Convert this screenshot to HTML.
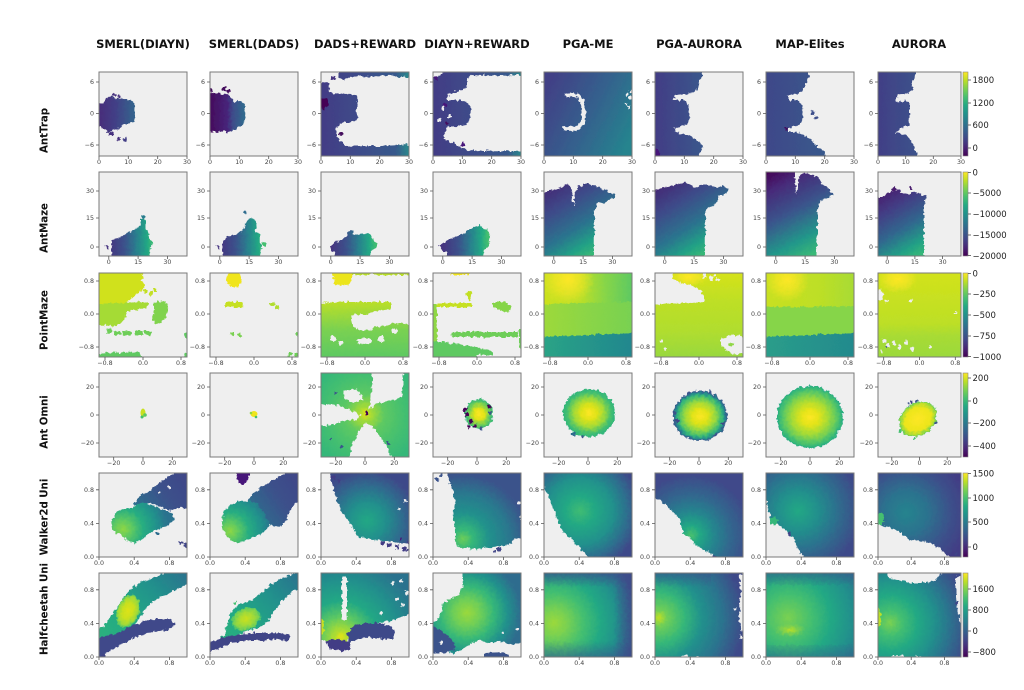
<!DOCTYPE html>
<html><head><meta charset="utf-8"><style>
html,body{margin:0;padding:0;background:#fff}
svg{display:block}
.bg{fill:#efefef}
.h{fill:#efefef}
.fr{fill:none;stroke:#7a7a7a;stroke-width:1}
.tk path{stroke:#555;stroke-width:.8;fill:none}
.tk text{font-family:"DejaVu Sans","Liberation Sans",sans-serif;font-size:6.3px;fill:#444;text-anchor:middle}
.tk text.y{text-anchor:end}
.ti{font-family:"DejaVu Sans","Liberation Sans",sans-serif;font-weight:bold;font-size:11.5px;fill:#111;text-anchor:middle}
.rl{font-family:"DejaVu Sans","Liberation Sans",sans-serif;font-weight:bold;font-size:10.2px;fill:#111;text-anchor:middle}
.cb text{font-family:"DejaVu Sans","Liberation Sans",sans-serif;font-size:8.5px;fill:#222}
.cb path{stroke:#444;stroke-width:.8;fill:none}
.cb rect{stroke:#888;stroke-width:.6}
</style></head><body>
<svg width="1024" height="690" viewBox="0 0 1024 690" xmlns="http://www.w3.org/2000/svg">
<defs>
<clipPath id="cA"><rect width="88" height="84"/></clipPath>
<clipPath id="cB"><rect width="83" height="84"/></clipPath>
<filter id="r" filterUnits="userSpaceOnUse" x="-10" y="-10" width="110" height="105">
<feTurbulence type="fractalNoise" baseFrequency="0.3" numOctaves="2" seed="4"/>
<feDisplacementMap in="SourceGraphic" scale="5" xChannelSelector="R" yChannelSelector="G"/>
</filter>
<linearGradient id="cbg" x1="0" y1="0" x2="0" y2="1"><stop offset="0" stop-color="#fde725"/><stop offset=".1" stop-color="#bddf26"/><stop offset=".2" stop-color="#7ad151"/><stop offset=".3" stop-color="#44bf70"/><stop offset=".4" stop-color="#22a884"/><stop offset=".5" stop-color="#21918c"/><stop offset=".6" stop-color="#2a788e"/><stop offset=".7" stop-color="#355f8d"/><stop offset=".8" stop-color="#414487"/><stop offset=".9" stop-color="#482475"/><stop offset="1" stop-color="#440154"/></linearGradient>
<linearGradient id="g11" gradientUnits="userSpaceOnUse" x1="0" y1="0" x2="36" y2="0"><stop offset="0" stop-color="#472c7a"/><stop offset=".45" stop-color="#423f86"/><stop offset="1" stop-color="#33658d"/></linearGradient>
<linearGradient id="g12" gradientUnits="userSpaceOnUse" x1="0" y1="0" x2="35" y2="0"><stop offset="0" stop-color="#450b5d"/><stop offset=".5" stop-color="#46257a"/><stop offset=".65" stop-color="#3e4c8a"/><stop offset="1" stop-color="#2f6c8e"/></linearGradient>
<linearGradient id="g13" gradientUnits="userSpaceOnUse" x1="0" y1="0" x2="88" y2="0"><stop offset="0" stop-color="#433c85"/><stop offset=".5" stop-color="#3d4e8a"/><stop offset=".85" stop-color="#37598c"/><stop offset="1" stop-color="#2a8a8c"/></linearGradient>
<linearGradient id="g15" gradientUnits="userSpaceOnUse" x1="0" y1="20" x2="88" y2="64"><stop offset="0" stop-color="#424086"/><stop offset=".5" stop-color="#355f8d"/><stop offset="1" stop-color="#25848e"/></linearGradient>
<linearGradient id="g16" gradientUnits="userSpaceOnUse" x1="0" y1="0" x2="48" y2="0"><stop offset="0" stop-color="#433d85"/><stop offset="1" stop-color="#39578c"/></linearGradient>
<linearGradient id="g17" gradientUnits="userSpaceOnUse" x1="0" y1="0" x2="60" y2="0"><stop offset="0" stop-color="#3f4889"/><stop offset="1" stop-color="#38598c"/></linearGradient>
<linearGradient id="g18" gradientUnits="userSpaceOnUse" x1="0" y1="0" x2="40" y2="0"><stop offset="0" stop-color="#423f86"/><stop offset="1" stop-color="#3b538b"/></linearGradient>
<linearGradient id="g2s" gradientUnits="userSpaceOnUse" x1="10" y1="0" x2="55" y2="0"><stop offset="0" stop-color="#463480"/><stop offset=".35" stop-color="#3b528b"/><stop offset=".6" stop-color="#2a7d8e"/><stop offset=".85" stop-color="#22a884"/><stop offset="1" stop-color="#44bf70"/></linearGradient>
<linearGradient id="g2b" gradientUnits="userSpaceOnUse" x1="0" y1="8" x2="48" y2="84"><stop offset="0" stop-color="#471e6f"/><stop offset=".35" stop-color="#3e4a89"/><stop offset=".65" stop-color="#2b738e"/><stop offset=".85" stop-color="#22a086"/><stop offset="1" stop-color="#3bbb75"/></linearGradient>
<linearGradient id="g2c" gradientUnits="userSpaceOnUse" x1="0" y1="0" x2="45" y2="84"><stop offset="0" stop-color="#440154"/><stop offset=".2" stop-color="#472a79"/><stop offset=".5" stop-color="#3a558c"/><stop offset=".8" stop-color="#22978a"/><stop offset="1" stop-color="#3aba76"/></linearGradient>
<linearGradient id="g2d" gradientUnits="userSpaceOnUse" x1="0" y1="18" x2="40" y2="84"><stop offset="0" stop-color="#48186a"/><stop offset=".3" stop-color="#433e85"/><stop offset=".6" stop-color="#30688e"/><stop offset=".85" stop-color="#22a086"/><stop offset="1" stop-color="#35b779"/></linearGradient>
<linearGradient id="g33" gradientUnits="userSpaceOnUse" x1="0" y1="30" x2="0" y2="84"><stop offset="0" stop-color="#b8de29"/><stop offset=".5" stop-color="#7ad151"/><stop offset="1" stop-color="#5ec962"/></linearGradient>
<linearGradient id="g35t" gradientUnits="userSpaceOnUse" x1="0" y1="0" x2="88" y2="0"><stop offset="0" stop-color="#cce11e"/><stop offset=".45" stop-color="#b5de2b"/><stop offset=".7" stop-color="#86d549"/><stop offset="1" stop-color="#5ec962"/></linearGradient>
<linearGradient id="g35m" gradientUnits="userSpaceOnUse" x1="0" y1="0" x2="88" y2="0"><stop offset="0" stop-color="#9dd93b"/><stop offset="1" stop-color="#78d152"/></linearGradient>
<linearGradient id="g35b" gradientUnits="userSpaceOnUse" x1="0" y1="0" x2="88" y2="0"><stop offset="0" stop-color="#2aa386"/><stop offset="1" stop-color="#21878e"/></linearGradient>
<linearGradient id="g36" gradientUnits="userSpaceOnUse" x1="0" y1="0" x2="0" y2="84"><stop offset="0" stop-color="#d5e21a"/><stop offset=".35" stop-color="#bddf26"/><stop offset=".7" stop-color="#b0dd2f"/><stop offset="1" stop-color="#98d83e"/></linearGradient>
<linearGradient id="g37t" gradientUnits="userSpaceOnUse" x1="0" y1="0" x2="88" y2="0"><stop offset="0" stop-color="#c8e020"/><stop offset=".6" stop-color="#bddf26"/><stop offset="1" stop-color="#a8db34"/></linearGradient>
<linearGradient id="g37b" gradientUnits="userSpaceOnUse" x1="0" y1="0" x2="88" y2="0"><stop offset="0" stop-color="#2a9d8a"/><stop offset="1" stop-color="#238a8d"/></linearGradient>
<linearGradient id="g38" gradientUnits="userSpaceOnUse" x1="0" y1="0" x2="0" y2="84"><stop offset="0" stop-color="#d2e21b"/><stop offset=".6" stop-color="#bddf26"/><stop offset=".75" stop-color="#a8db34"/><stop offset="1" stop-color="#9bd93c"/></linearGradient>
<linearGradient id="g51b" gradientUnits="userSpaceOnUse" x1="35" y1="35" x2="88" y2="0"><stop offset="0" stop-color="#2c728e"/><stop offset=".5" stop-color="#3b528b"/><stop offset="1" stop-color="#404688"/></linearGradient>
<linearGradient id="g61" gradientUnits="userSpaceOnUse" x1="0" y1="80" x2="88" y2="0"><stop offset="0" stop-color="#2fb47c"/><stop offset=".4" stop-color="#22a884"/><stop offset=".7" stop-color="#21918c"/><stop offset="1" stop-color="#2c728e"/></linearGradient>
<linearGradient id="gT" gradientUnits="userSpaceOnUse" x1="0" y1="-4" x2="0" y2="14"><stop offset="0" stop-color="#3b528b" stop-opacity=".95"/><stop offset="1" stop-color="#3b528b" stop-opacity="0"/></linearGradient>
<linearGradient id="gB" gradientUnits="userSpaceOnUse" x1="0" y1="88" x2="0" y2="68"><stop offset="0" stop-color="#3b528b" stop-opacity=".95"/><stop offset="1" stop-color="#3b528b" stop-opacity="0"/></linearGradient>
<linearGradient id="gR" gradientUnits="userSpaceOnUse" x1="92" y1="0" x2="70" y2="0"><stop offset="0" stop-color="#3e4a89" stop-opacity=".95"/><stop offset="1" stop-color="#3e4a89" stop-opacity="0"/></linearGradient>
<radialGradient id="rY"><stop offset="0" stop-color="#fde725"/><stop offset=".5" stop-color="#fde725" stop-opacity=".6"/><stop offset="1" stop-color="#fde725" stop-opacity="0"/></radialGradient>
<radialGradient id="r43" gradientUnits="userSpaceOnUse" cx="44" cy="41" r="55"><stop offset="0" stop-color="#dfe318"/><stop offset=".12" stop-color="#a5db36"/><stop offset=".35" stop-color="#5ec962"/><stop offset=".7" stop-color="#44bf70"/><stop offset="1" stop-color="#35b779"/></radialGradient>
<radialGradient id="rd1"><stop offset="0" stop-color="#fde725"/><stop offset=".4" stop-color="#dfe318"/><stop offset=".7" stop-color="#7ad151"/><stop offset="1" stop-color="#35b779"/></radialGradient>
<radialGradient id="rd2"><stop offset="0" stop-color="#fde725"/><stop offset=".3" stop-color="#dfe318"/><stop offset=".6" stop-color="#9bd93c"/><stop offset=".85" stop-color="#44bf70"/><stop offset="1" stop-color="#2fb47c"/></radialGradient>
<radialGradient id="rd3"><stop offset="0" stop-color="#fde725"/><stop offset=".3" stop-color="#dfe318"/><stop offset=".6" stop-color="#8fd744"/><stop offset=".82" stop-color="#35b779"/><stop offset=".93" stop-color="#25848e"/><stop offset="1" stop-color="#3b528b"/></radialGradient>
<radialGradient id="rd4"><stop offset="0" stop-color="#fde725"/><stop offset=".25" stop-color="#e5e419"/><stop offset=".55" stop-color="#a5db36"/><stop offset=".8" stop-color="#5ec962"/><stop offset=".95" stop-color="#35b779"/><stop offset="1" stop-color="#22a884"/></radialGradient>
<radialGradient id="rd5"><stop offset="0" stop-color="#fde725"/><stop offset=".7" stop-color="#ece51b"/><stop offset=".9" stop-color="#a5db36"/><stop offset="1" stop-color="#5ec962"/></radialGradient>
<radialGradient id="r51" gradientUnits="userSpaceOnUse" cx="24" cy="56" r="45"><stop offset="0" stop-color="#8fd744"/><stop offset=".2" stop-color="#5ec962"/><stop offset=".45" stop-color="#27ad81"/><stop offset=".75" stop-color="#21918c"/><stop offset="1" stop-color="#2c728e"/></radialGradient>
<radialGradient id="r52" gradientUnits="userSpaceOnUse" cx="20" cy="58" r="42"><stop offset="0" stop-color="#8fd744"/><stop offset=".2" stop-color="#5ec962"/><stop offset=".45" stop-color="#27ad81"/><stop offset=".75" stop-color="#21918c"/><stop offset="1" stop-color="#2c728e"/></radialGradient>
<radialGradient id="r53" gradientUnits="userSpaceOnUse" cx="46" cy="48" r="50"><stop offset="0" stop-color="#22a884"/><stop offset=".35" stop-color="#21918c"/><stop offset=".7" stop-color="#2f6c8e"/><stop offset="1" stop-color="#3e4a89"/></radialGradient>
<radialGradient id="r54" gradientUnits="userSpaceOnUse" cx="30" cy="66" r="65"><stop offset="0" stop-color="#6ece58"/><stop offset=".15" stop-color="#35b779"/><stop offset=".4" stop-color="#21918c"/><stop offset=".7" stop-color="#2a788e"/><stop offset="1" stop-color="#3b528b"/></radialGradient>
<radialGradient id="r55" gradientUnits="userSpaceOnUse" cx="36" cy="38" r="60"><stop offset="0" stop-color="#3fbc73"/><stop offset=".25" stop-color="#22a884"/><stop offset=".55" stop-color="#21918c"/><stop offset=".8" stop-color="#2f6c8e"/><stop offset="1" stop-color="#3e4a89"/></radialGradient>
<radialGradient id="r56" gradientUnits="userSpaceOnUse" cx="36" cy="62" r="60"><stop offset="0" stop-color="#4ac16d"/><stop offset=".15" stop-color="#22a884"/><stop offset=".4" stop-color="#25848e"/><stop offset=".65" stop-color="#31688e"/><stop offset="1" stop-color="#3f4a8a"/></radialGradient>
<radialGradient id="r57" gradientUnits="userSpaceOnUse" cx="32" cy="38" r="62"><stop offset="0" stop-color="#22a884"/><stop offset=".3" stop-color="#21918c"/><stop offset=".6" stop-color="#2c728e"/><stop offset="1" stop-color="#3e4a89"/></radialGradient>
<radialGradient id="r58" gradientUnits="userSpaceOnUse" cx="28" cy="40" r="62"><stop offset="0" stop-color="#25848e"/><stop offset=".35" stop-color="#2c728e"/><stop offset=".7" stop-color="#3b528b"/><stop offset="1" stop-color="#433e85"/></radialGradient>
<radialGradient id="r61"><stop offset="0" stop-color="#dfe318"/><stop offset=".5" stop-color="#c8e020"/><stop offset=".85" stop-color="#9bd93c"/><stop offset="1" stop-color="#5ec962"/></radialGradient>
<radialGradient id="r62"><stop offset="0" stop-color="#c8e020"/><stop offset=".5" stop-color="#a5db36"/><stop offset=".85" stop-color="#7ad151"/><stop offset="1" stop-color="#44bf70"/></radialGradient>
<radialGradient id="r63" gradientUnits="userSpaceOnUse" cx="20" cy="64" r="80"><stop offset="0" stop-color="#dfe318"/><stop offset=".1" stop-color="#a5db36"/><stop offset=".25" stop-color="#5ec962"/><stop offset=".45" stop-color="#22a884"/><stop offset=".7" stop-color="#21918c"/><stop offset="1" stop-color="#2c728e"/></radialGradient>
<radialGradient id="r64" gradientUnits="userSpaceOnUse" cx="34" cy="40" r="54"><stop offset="0" stop-color="#9bd93c"/><stop offset=".25" stop-color="#6ece58"/><stop offset=".5" stop-color="#35b779"/><stop offset=".75" stop-color="#21918c"/><stop offset="1" stop-color="#2f6c8e"/></radialGradient>
<radialGradient id="r65" gradientUnits="userSpaceOnUse" cx="10" cy="50" r="85"><stop offset="0" stop-color="#9bd93c"/><stop offset=".15" stop-color="#7ad151"/><stop offset=".35" stop-color="#44bf70"/><stop offset=".55" stop-color="#22a884"/><stop offset=".75" stop-color="#21918c"/><stop offset=".9" stop-color="#2c728e"/><stop offset="1" stop-color="#3b528b"/></radialGradient>
<radialGradient id="r66" gradientUnits="userSpaceOnUse" cx="4" cy="45" r="85"><stop offset="0" stop-color="#bddf26"/><stop offset=".1" stop-color="#6ece58"/><stop offset=".3" stop-color="#35b779"/><stop offset=".5" stop-color="#21918c"/><stop offset=".75" stop-color="#2c728e"/><stop offset="1" stop-color="#3e4a89"/></radialGradient>
<radialGradient id="r67" gradientUnits="userSpaceOnUse" cx="22" cy="45" r="78"><stop offset="0" stop-color="#7ad151"/><stop offset=".3" stop-color="#44bf70"/><stop offset=".55" stop-color="#22a884"/><stop offset=".8" stop-color="#21918c"/><stop offset="1" stop-color="#2a788e"/></radialGradient>
<radialGradient id="r67s"><stop offset="0" stop-color="#bddf26"/><stop offset="1" stop-color="#7ad151" stop-opacity="0"/></radialGradient>
<radialGradient id="r68" gradientUnits="userSpaceOnUse" cx="12" cy="50" r="80"><stop offset="0" stop-color="#7ad151"/><stop offset=".15" stop-color="#44bf70"/><stop offset=".35" stop-color="#22a884"/><stop offset=".55" stop-color="#21918c"/><stop offset=".75" stop-color="#2c728e"/><stop offset="1" stop-color="#3e4a89"/></radialGradient>
</defs>

<rect width="1024" height="690" fill="#fff"/>

<!-- Column titles -->
<text class="ti" x="143" y="48">SMERL(DIAYN)</text>
<text class="ti" x="254" y="48">SMERL(DADS)</text>
<text class="ti" x="365" y="48">DADS+REWARD</text>
<text class="ti" x="477" y="48">DIAYN+REWARD</text>
<text class="ti" x="588" y="48">PGA-ME</text>
<text class="ti" x="699" y="48">PGA-AURORA</text>
<text class="ti" x="810" y="48">MAP-Elites</text>
<text class="ti" x="919" y="48">AURORA</text>

<!-- Row labels -->
<text class="rl" transform="translate(47.5,130.5) rotate(-90)">AntTrap</text>
<text class="rl" transform="translate(47.5,228) rotate(-90)">AntMaze</text>
<text class="rl" transform="translate(47.5,320) rotate(-90)">PointMaze</text>
<text class="rl" transform="translate(47.5,422) rotate(-90)">Ant Omni</text>
<text class="rl" transform="translate(47.5,517) rotate(-90)">Walker2d Uni</text>
<text class="rl" transform="translate(47.5,609) rotate(-90)">Halfcheetah Uni</text>

<!-- ================= ROW 1 AntTrap ================= -->
<g transform="translate(99,72)"><rect width="88" height="84" class="bg"/>
<g clip-path="url(#cA)"><g filter="url(#r)">
<path d="M0,31 L5,30 L8,25 L13,24 L15,27 L22,26 L27,28 L32,28 L35,30 L36,40 L35,50 L30,52 L24,52 L20,56 L14,58 L9,61 L5,57 L-4,54 L-4,31 Z" fill="url(#g11)"/>
<circle cx="12" cy="62" r="2" fill="#46307e"/><circle cx="20" cy="67" r="1.8" fill="#46307e"/><circle cx="26" cy="68" r="1.8" fill="#433e85"/><circle cx="15" cy="23" r="1.8" fill="#46307e"/><circle cx="20" cy="24" r="1.8" fill="#46307e"/>
</g></g><rect width="88" height="84" class="fr"/>
<g class="tk"><path d="M-3,10H0M-3,41.5H0M-3,73H0M0,84V87M29.3,84V87M58.7,84V87M88,84V87"/><text class="y" x="-5" y="12.2">6</text><text class="y" x="-5" y="43.7">0</text><text class="y" x="-5" y="75.2">−6</text><text x="0" y="92">0</text><text x="29.3" y="92">10</text><text x="58.7" y="92">20</text><text x="88" y="92">30</text></g></g>

<g transform="translate(210,72)"><rect width="88" height="84" class="bg"/>
<g clip-path="url(#cA)"><g filter="url(#r)">
<path d="M-4,20 L4,22 L8,21 L12,23 L17,22 L21,26 L24,30 L30,29 L34,31 L35,40 L34,52 L30,55 L25,58 L18,60 L12,59 L6,60 L-4,58 Z" fill="url(#g12)"/>
<circle cx="14" cy="17" r="2" fill="#450b5d"/><circle cx="18" cy="19" r="1.8" fill="#450b5d"/><circle cx="1" cy="18" r="2" fill="#450b5d"/>
</g></g><rect width="88" height="84" class="fr"/>
<g class="tk"><path d="M-3,10H0M-3,41.5H0M-3,73H0M0,84V87M29.3,84V87M58.7,84V87M88,84V87"/><text class="y" x="-5" y="12.2">6</text><text class="y" x="-5" y="43.7">0</text><text class="y" x="-5" y="75.2">−6</text><text x="0" y="92">0</text><text x="29.3" y="92">10</text><text x="58.7" y="92">20</text><text x="88" y="92">30</text></g></g>

<g transform="translate(321,72)"><rect width="88" height="84" class="bg"/>
<g clip-path="url(#cA)"><g filter="url(#r)">
<path d="M-4,12 L6,10 L9,14 L8,20 L14,22 L22,21 L30,22 L36,24 L37,32 L35,40 L37,46 L32,50 L22,50 L18,54 L14,58 L16,64 L20,70 L26,74 L40,74 L60,74 L80,73 L92,72 L92,90 L-4,90 Z" fill="url(#g13)"/>
<path d="M17,-4 L92,-4 L92,6 L80,5 L70,3 L55,5 L40,4 L30,5 L22,8 L17,5 Z" fill="url(#g13)"/>
<path d="M-4,26 L7,27 L8,33 L3,37 L-4,36Z" fill="#440154"/>
<circle cx="20" cy="62" r="1.5" fill="#450b5d"/><circle cx="12" cy="6" r="1.6" fill="#463480"/>
</g></g><rect width="88" height="84" class="fr"/>
<g class="tk"><path d="M-3,10H0M-3,41.5H0M-3,73H0M0,84V87M29.3,84V87M58.7,84V87M88,84V87"/><text class="y" x="-5" y="12.2">6</text><text class="y" x="-5" y="43.7">0</text><text class="y" x="-5" y="75.2">−6</text><text x="0" y="92">0</text><text x="29.3" y="92">10</text><text x="58.7" y="92">20</text><text x="88" y="92">30</text></g></g>

<g transform="translate(433,72)"><rect width="88" height="84" class="bg"/>
<g clip-path="url(#cA)"><g filter="url(#r)">
<path d="M-4,8 L5,4 L12,0 L24,-4 L92,-4 L92,3 L80,3 L60,4 L40,3 L34,6 L35,14 L30,18 L22,20 L16,22 L14,28 L24,28 L34,30 L38,36 L37,46 L34,53 L24,54 L14,55 L12,62 L12,68 L18,70 L26,74 L34,78 L50,79 L70,79 L92,79 L92,90 L-4,90 Z" fill="url(#g13)"/>
<circle cx="10" cy="36" r="2" class="h"/><circle cx="16" cy="44" r="2" class="h"/><circle cx="6" cy="48" r="1.8" class="h"/>
<circle cx="12" cy="33" r="2" fill="#46137a"/><circle cx="14" cy="51" r="1.8" fill="#450b5d"/><circle cx="30" cy="72" r="2" fill="#46137a"/><circle cx="3" cy="6" r="1.8" fill="#46137a"/>
</g></g><rect width="88" height="84" class="fr"/>
<g class="tk"><path d="M-3,10H0M-3,41.5H0M-3,73H0M0,84V87M29.3,84V87M58.7,84V87M88,84V87"/><text class="y" x="-5" y="12.2">6</text><text class="y" x="-5" y="43.7">0</text><text class="y" x="-5" y="75.2">−6</text><text x="0" y="92">0</text><text x="29.3" y="92">10</text><text x="58.7" y="92">20</text><text x="88" y="92">30</text></g></g>

<g transform="translate(544,72)"><rect width="88" height="84" class="bg"/>
<g clip-path="url(#cA)"><g filter="url(#r)">
<rect x="-4" y="-4" width="96" height="96" fill="url(#g15)"/>
<path d="M22,23 Q36,20 39,32 L40,46 Q38,56 30,57 L19,56" fill="none" stroke="#efefef" stroke-width="4"/>
<circle cx="83" cy="22" r="1.5" class="h"/><circle cx="86" cy="26" r="1.5" class="h"/><circle cx="82" cy="32" r="1.5" class="h"/><circle cx="85" cy="35" r="1.5" class="h"/><circle cx="87" cy="19" r="1.2" class="h"/>
</g></g><rect width="88" height="84" class="fr"/>
<g class="tk"><path d="M-3,10H0M-3,41.5H0M-3,73H0M0,84V87M29.3,84V87M58.7,84V87M88,84V87"/><text class="y" x="-5" y="12.2">6</text><text class="y" x="-5" y="43.7">0</text><text class="y" x="-5" y="75.2">−6</text><text x="0" y="92">0</text><text x="29.3" y="92">10</text><text x="58.7" y="92">20</text><text x="88" y="92">30</text></g></g>

<g transform="translate(655,72)"><rect width="88" height="84" class="bg"/>
<g clip-path="url(#cA)"><g filter="url(#r)">
<path d="M-4,-4 L47,-4 L47,5 L44,10 L43,17 L38,21 L30,22 L20,23 L19,28 L30,28 L33,33 L34,45 L33,52 L25,55 L19,56 L20,60 L30,62 L38,66 L44,70 L48,74 L46,79 L42,88 L-4,88 Z" fill="url(#g16)"/>
<path d="M-4,76 L4,78 L6,88 L-4,88Z" fill="#46137a"/>
</g></g><rect width="88" height="84" class="fr"/>
<g class="tk"><path d="M-3,10H0M-3,41.5H0M-3,73H0M0,84V87M29.3,84V87M58.7,84V87M88,84V87"/><text class="y" x="-5" y="12.2">6</text><text class="y" x="-5" y="43.7">0</text><text class="y" x="-5" y="75.2">−6</text><text x="0" y="92">0</text><text x="29.3" y="92">10</text><text x="58.7" y="92">20</text><text x="88" y="92">30</text></g></g>

<g transform="translate(766,72)"><rect width="88" height="84" class="bg"/>
<g clip-path="url(#cA)"><g filter="url(#r)">
<path d="M-4,-4 L43,-4 L42,8 L38,14 L36,20 L28,22 L22,24 L22,28 L32,28 L36,33 L37,45 L35,52 L28,55 L22,56 L22,60 L32,60 L40,64 L47,70 L52,76 L58,80 L62,88 L-4,88 Z" fill="url(#g17)"/>
<circle cx="47" cy="41" r="2" fill="#3c508b"/><circle cx="50" cy="46" r="1.8" fill="#3c508b"/><circle cx="20" cy="57" r="1.5" fill="#450b5d"/>
</g></g><rect width="88" height="84" class="fr"/>
<g class="tk"><path d="M-3,10H0M-3,41.5H0M-3,73H0M0,84V87M29.3,84V87M58.7,84V87M88,84V87"/><text class="y" x="-5" y="12.2">6</text><text class="y" x="-5" y="43.7">0</text><text class="y" x="-5" y="75.2">−6</text><text x="0" y="92">0</text><text x="29.3" y="92">10</text><text x="58.7" y="92">20</text><text x="88" y="92">30</text></g></g>

<g transform="translate(878,72)"><rect width="83" height="84" class="bg"/>
<g clip-path="url(#cB)"><g filter="url(#r)">
<path d="M-4,-4 L39,-4 L37,6 L34,10 L35,17 L30,21 L20,22 L18,30 L28,29 L32,32 L32,45 L31,54 L22,56 L18,61 L26,62 L32,66 L34,72 L38,78 L40,88 L-4,88 Z" fill="url(#g18)"/>
</g></g><rect width="83" height="84" class="fr"/>
<g class="tk"><path d="M-3,10H0M-3,41.5H0M-3,73H0M0,84V87M27.7,84V87M55.3,84V87M83,84V87"/><text class="y" x="-5" y="12.2">6</text><text class="y" x="-5" y="43.7">0</text><text class="y" x="-5" y="75.2">−6</text><text x="0" y="92">0</text><text x="27.7" y="92">10</text><text x="55.3" y="92">20</text><text x="83" y="92">30</text></g></g>

<!-- ================= ROW 2 AntMaze ================= -->
<g transform="translate(99,172)"><rect width="88" height="84" class="bg"/>
<g clip-path="url(#cA)"><g filter="url(#r)">
<path d="M13,68 L20,66 L26,62 L30,60 L35,58 L40,55 L42,52 L42,48 L45,46 L48,50 L46,55 L49,60 L50,65 L54,70 L52,75 L51,88 L13,88 L12,78 Z" fill="url(#g2s)"/>
<circle cx="8" cy="75" r="1.6" fill="#463480"/><circle cx="44" cy="45" r="1.5" fill="#2a7d8e"/>
</g></g><rect width="88" height="84" class="fr"/>
<g class="tk"><path d="M-3,19H0M-3,46H0M-3,75H0M9.8,84V87M39.1,84V87M68.4,84V87"/><text class="y" x="-5" y="21.2">30</text><text class="y" x="-5" y="48.2">15</text><text class="y" x="-5" y="77.2">0</text><text x="9.8" y="92">0</text><text x="39.1" y="92">15</text><text x="68.4" y="92">30</text></g></g>

<g transform="translate(210,172)"><rect width="88" height="84" class="bg"/>
<g clip-path="url(#cA)"><g filter="url(#r)">
<path d="M12,72 L16,66 L22,63 L28,62 L32,58 L36,52 L38,48 L42,46 L46,50 L47,57 L45,60 L50,62 L50,70 L52,76 L50,88 L14,88 L12,80 Z" fill="url(#g2s)"/>
<circle cx="35" cy="41" r="1.8" fill="#2f6c8e"/><circle cx="8" cy="75" r="1.5" fill="#463480"/><circle cx="54" cy="72" r="2" fill="#44bf70"/>
</g></g><rect width="88" height="84" class="fr"/>
<g class="tk"><path d="M-3,19H0M-3,46H0M-3,75H0M9.8,84V87M39.1,84V87M68.4,84V87"/><text class="y" x="-5" y="21.2">30</text><text class="y" x="-5" y="48.2">15</text><text class="y" x="-5" y="77.2">0</text><text x="9.8" y="92">0</text><text x="39.1" y="92">15</text><text x="68.4" y="92">30</text></g></g>

<g transform="translate(321,172)"><rect width="88" height="84" class="bg"/>
<g clip-path="url(#cA)"><g filter="url(#r)">
<path d="M9,74 L14,70 L20,68 L26,64 L28,58 L32,58 L33,63 L38,62 L45,61 L50,63 L53,68 L56,72 L55,76 L50,80 L46,88 L15,88 L14,80 L10,78 Z" fill="url(#g2s)"/>
</g></g><rect width="88" height="84" class="fr"/>
<g class="tk"><path d="M-3,19H0M-3,46H0M-3,75H0M9.8,84V87M39.1,84V87M68.4,84V87"/><text class="y" x="-5" y="21.2">30</text><text class="y" x="-5" y="48.2">15</text><text class="y" x="-5" y="77.2">0</text><text x="9.8" y="92">0</text><text x="39.1" y="92">15</text><text x="68.4" y="92">30</text></g></g>

<g transform="translate(433,172)"><rect width="88" height="84" class="bg"/>
<g clip-path="url(#cA)"><g filter="url(#r)">
<path d="M6,74 L12,70 L18,67 L24,64 L30,62 L36,58 L42,55 L47,52 L50,56 L54,58 L57,64 L56,72 L52,78 L50,88 L16,88 L14,80 L8,78 Z" fill="url(#g2s)"/>
</g></g><rect width="88" height="84" class="fr"/>
<g class="tk"><path d="M-3,19H0M-3,46H0M-3,75H0M9.8,84V87M39.1,84V87M68.4,84V87"/><text class="y" x="-5" y="21.2">30</text><text class="y" x="-5" y="48.2">15</text><text class="y" x="-5" y="77.2">0</text><text x="9.8" y="92">0</text><text x="39.1" y="92">15</text><text x="68.4" y="92">30</text></g></g>

<g transform="translate(544,172)"><rect width="88" height="84" class="bg"/>
<g clip-path="url(#cA)"><g filter="url(#r)">
<path d="M-4,22 L6,19 L12,17 L18,15 L24,12 L28,16 L29,22 L28,30 L31,33 L30,22 L34,15 L40,12 L46,12 L52,15 L58,16 L62,18 L70,22 L72,26 L64,28 L60,32 L54,30 L52,34 L50,40 L50,88 L-4,88 Z" fill="url(#g2b)"/>
</g></g><rect width="88" height="84" class="fr"/>
<g class="tk"><path d="M-3,19H0M-3,46H0M-3,75H0M9.8,84V87M39.1,84V87M68.4,84V87"/><text class="y" x="-5" y="21.2">30</text><text class="y" x="-5" y="48.2">15</text><text class="y" x="-5" y="77.2">0</text><text x="9.8" y="92">0</text><text x="39.1" y="92">15</text><text x="68.4" y="92">30</text></g></g>

<g transform="translate(655,172)"><rect width="88" height="84" class="bg"/>
<g clip-path="url(#cA)"><g filter="url(#r)">
<path d="M-4,18 L8,16 L16,14 L24,12 L30,10 L36,13 L40,16 L48,12 L56,14 L62,16 L68,14 L74,18 L70,22 L64,24 L62,30 L58,34 L52,36 L50,42 L50,88 L-4,88 Z" fill="url(#g2b)"/>
</g></g><rect width="88" height="84" class="fr"/>
<g class="tk"><path d="M-3,19H0M-3,46H0M-3,75H0M9.8,84V87M39.1,84V87M68.4,84V87"/><text class="y" x="-5" y="21.2">30</text><text class="y" x="-5" y="48.2">15</text><text class="y" x="-5" y="77.2">0</text><text x="9.8" y="92">0</text><text x="39.1" y="92">15</text><text x="68.4" y="92">30</text></g></g>

<g transform="translate(766,172)"><rect width="88" height="84" class="bg"/>
<g clip-path="url(#cA)"><g filter="url(#r)">
<path d="M-4,-4 L28,-4 L29,10 L30,22 L32,10 L34,2 L40,1 L46,3 L52,5 L56,12 L62,16 L68,22 L62,26 L56,28 L52,34 L51,40 L51,88 L-4,88 Z" fill="url(#g2c)"/>
</g></g><rect width="88" height="84" class="fr"/>
<g class="tk"><path d="M-3,19H0M-3,46H0M-3,75H0M9.8,84V87M39.1,84V87M68.4,84V87"/><text class="y" x="-5" y="21.2">30</text><text class="y" x="-5" y="48.2">15</text><text class="y" x="-5" y="77.2">0</text><text x="9.8" y="92">0</text><text x="39.1" y="92">15</text><text x="68.4" y="92">30</text></g></g>

<g transform="translate(878,172)"><rect width="83" height="84" class="bg"/>
<g clip-path="url(#cB)"><g filter="url(#r)">
<path d="M-4,26 L6,24 L12,20 L18,18 L24,20 L30,22 L36,20 L42,22 L48,24 L47,28 L46,34 L46,88 L-4,88 Z" fill="url(#g2d)"/>
<circle cx="32" cy="16" r="1.8" fill="#481c6e"/><circle cx="16" cy="17" r="1.8" fill="#481c6e"/>
</g></g><rect width="83" height="84" class="fr"/>
<g class="tk"><path d="M-3,19H0M-3,46H0M-3,75H0M9.2,84V87M36.9,84V87M64.6,84V87"/><text class="y" x="-5" y="21.2">30</text><text class="y" x="-5" y="48.2">15</text><text class="y" x="-5" y="77.2">0</text><text x="9.2" y="92">0</text><text x="36.9" y="92">15</text><text x="64.6" y="92">30</text></g></g>

<!-- ================= ROW 3 PointMaze ================= -->
<g transform="translate(99,273)"><rect width="88" height="84" class="bg"/>
<g clip-path="url(#cA)"><g filter="url(#r)">
<path d="M-4,-4 L44,-4 L43,8 L46,14 L40,20 L34,24 L28,30 L20,32 L-4,32 Z" fill="#d0e11c"/>
<circle cx="46" cy="18" r="2" fill="#c2df23"/><circle cx="52" cy="20" r="2" fill="#c2df23"/><circle cx="56" cy="17" r="1.8" fill="#c2df23"/>
<path d="M-4,30 L25,30 L40,29 L49,30 L48,35 L40,36 L28,38 L26,44 L22,50 L14,54 L6,52 L-4,54 Z" fill="#a5db36"/>
<path d="M55,30 L62,28 L68,30 L69,38 L66,46 L62,50 L56,52 L53,46 L55,38 Z" fill="#80d34d"/>
<ellipse cx="10" cy="58" rx="3" ry="2.5" fill="#6ece58"/><ellipse cx="18" cy="60" rx="4" ry="2.5" fill="#6ece58"/><ellipse cx="28" cy="60" rx="5" ry="2.5" fill="#6ece58"/><ellipse cx="40" cy="60" rx="4" ry="2.5" fill="#6ece58"/><ellipse cx="49" cy="60" rx="4" ry="2.5" fill="#6ece58"/>
<path d="M-4,80 L40,79 L43,84 L43,88 L-4,88 Z" fill="#5ec962"/>
<circle cx="87" cy="62" r="2" fill="#5ec962"/><circle cx="87" cy="82" r="2" fill="#5ec962"/>
</g></g><rect width="88" height="84" class="fr"/>
<g class="tk"><path d="M-3,8H0M-3,41H0M-3,74H0M6,84V87M44,84V87M82,84V87"/><text class="y" x="-5" y="10.2">0.8</text><text class="y" x="-5" y="43.2">0.0</text><text class="y" x="-5" y="76.2">−0.8</text><text x="6" y="92">−0.8</text><text x="44" y="92">0.0</text><text x="82" y="92">0.8</text></g></g>

<g transform="translate(210,273)"><rect width="88" height="84" class="bg"/>
<g clip-path="url(#cA)"><g filter="url(#r)">
<ellipse cx="24" cy="6" rx="8" ry="8" fill="#f0e51d"/>
<rect x="15" y="29" width="18" height="5" rx="2" fill="#c6e021"/>
<circle cx="62" cy="31" r="2" fill="#b0dd2f"/><circle cx="67" cy="34" r="2" fill="#b0dd2f"/>
<circle cx="22" cy="61" r="2" fill="#7ad151"/><circle cx="30" cy="62" r="2" fill="#7ad151"/>
<circle cx="80" cy="81" r="2.5" fill="#6ece58"/><circle cx="86" cy="82" r="2" fill="#6ece58"/><circle cx="87" cy="61" r="1.8" fill="#6ece58"/>
</g></g><rect width="88" height="84" class="fr"/>
<g class="tk"><path d="M-3,8H0M-3,41H0M-3,74H0M6,84V87M44,84V87M82,84V87"/><text class="y" x="-5" y="10.2">0.8</text><text class="y" x="-5" y="43.2">0.0</text><text class="y" x="-5" y="76.2">−0.8</text><text x="6" y="92">−0.8</text><text x="44" y="92">0.0</text><text x="82" y="92">0.8</text></g></g>

<g transform="translate(321,273)"><rect width="88" height="84" class="bg"/>
<g clip-path="url(#cA)"><g filter="url(#r)">
<path d="M12,-4 L32,-4 L32,4 L28,11 L20,13 L13,10 Z" fill="#ece51b"/>
<rect x="32" y="-2" width="60" height="4" fill="#b8de29"/>
<path d="M-4,30 L20,29 L40,29 L70,29 L70,36 L56,38 L48,40 L45,46 L44,52 L58,54 L75,50 L92,52 L92,88 L-4,88 Z" fill="url(#g33)"/>
<path d="M30,42 L50,40 L66,42 L68,48 L58,50 L52,56 L40,58 L32,54 Z" class="h"/>
<circle cx="12" cy="66" r="3" class="h"/><circle cx="20" cy="70" r="2.5" class="h"/><ellipse cx="44" cy="68" rx="8" ry="3" class="h"/><circle cx="60" cy="66" r="3" class="h"/><circle cx="74" cy="58" r="2.5" class="h"/>
</g></g><rect width="88" height="84" class="fr"/>
<g class="tk"><path d="M-3,8H0M-3,41H0M-3,74H0M6,84V87M44,84V87M82,84V87"/><text class="y" x="-5" y="10.2">0.8</text><text class="y" x="-5" y="43.2">0.0</text><text class="y" x="-5" y="76.2">−0.8</text><text x="6" y="92">−0.8</text><text x="44" y="92">0.0</text><text x="82" y="92">0.8</text></g></g>

<g transform="translate(433,273)"><rect width="88" height="84" class="bg"/>
<g clip-path="url(#cA)"><g filter="url(#r)">
<rect x="17" y="-4" width="18" height="6" fill="#f1e51d"/>
<ellipse cx="36" cy="22" rx="3" ry="5" fill="#c2df23"/>
<rect x="-4" y="30" width="43" height="4" fill="#c6e021"/>
<path d="M60,29 L72,29 L79,33 L76,39 L68,38 L60,34 Z" fill="#86d549"/>
<rect x="-4" y="30" width="8" height="44" fill="#8fd744"/>
<rect x="19" y="59" width="66" height="5" rx="2" fill="#6ece58"/>
<path d="M-4,68 L10,69 L30,72 L44,74 L60,79 L60,82 L44,82 L44,88 L-4,88 Z" fill="#5ec962"/>
<rect x="86" y="56" width="6" height="18" fill="#6ece58"/>
</g></g><rect width="88" height="84" class="fr"/>
<g class="tk"><path d="M-3,8H0M-3,41H0M-3,74H0M6,84V87M44,84V87M82,84V87"/><text class="y" x="-5" y="10.2">0.8</text><text class="y" x="-5" y="43.2">0.0</text><text class="y" x="-5" y="76.2">−0.8</text><text x="6" y="92">−0.8</text><text x="44" y="92">0.0</text><text x="82" y="92">0.8</text></g></g>

<g transform="translate(544,273)"><rect width="88" height="84" class="bg"/>
<g clip-path="url(#cA)"><g filter="url(#r)">
<rect x="-4" y="-4" width="96" height="38" fill="url(#g35t)"/>
<circle cx="24" cy="6" r="26" fill="url(#rY)"/>
<path d="M-4,31 L92,29 L92,62 L-4,65 Z" fill="url(#g35m)"/>
<path d="M-4,64 L92,60 L92,88 L-4,88Z" fill="url(#g35b)"/>
</g></g><rect width="88" height="84" class="fr"/>
<g class="tk"><path d="M-3,8H0M-3,41H0M-3,74H0M6,84V87M44,84V87M82,84V87"/><text class="y" x="-5" y="10.2">0.8</text><text class="y" x="-5" y="43.2">0.0</text><text class="y" x="-5" y="76.2">−0.8</text><text x="6" y="92">−0.8</text><text x="44" y="92">0.0</text><text x="82" y="92">0.8</text></g></g>

<g transform="translate(655,273)"><rect width="88" height="84" class="bg"/>
<g clip-path="url(#cA)"><g filter="url(#r)">
<rect x="-4" y="-4" width="96" height="96" fill="url(#g36)"/>
<ellipse cx="34" cy="4" rx="18" ry="10" fill="url(#rY)"/>
<path d="M-4,-4 L16,-4 L18,6 L26,10 L36,12 L44,16 L48,22 L50,29 L35,30 L-4,31 Z" class="h"/>
<circle cx="50" cy="3" r="2" class="h"/><circle cx="56" cy="5" r="2" class="h"/><circle cx="60" cy="2" r="1.8" class="h"/><circle cx="63" cy="7" r="1.5" class="h"/>
<path d="M66,66 L74,62 L86,63 L92,65 L92,80 L80,82 L72,78 L66,72 Z" class="h"/>
<circle cx="76" cy="72" r="2" fill="#8fd744"/>
<circle cx="6" cy="68" r="1.5" class="h"/><circle cx="10" cy="76" r="1.5" class="h"/>
</g></g><rect width="88" height="84" class="fr"/>
<g class="tk"><path d="M-3,8H0M-3,41H0M-3,74H0M6,84V87M44,84V87M82,84V87"/><text class="y" x="-5" y="10.2">0.8</text><text class="y" x="-5" y="43.2">0.0</text><text class="y" x="-5" y="76.2">−0.8</text><text x="6" y="92">−0.8</text><text x="44" y="92">0.0</text><text x="82" y="92">0.8</text></g></g>

<g transform="translate(766,273)"><rect width="88" height="84" class="bg"/>
<g clip-path="url(#cA)"><g filter="url(#r)">
<rect x="-4" y="-4" width="96" height="39" fill="url(#g37t)"/>
<circle cx="21" cy="7" r="22" fill="url(#rY)"/>
<path d="M-4,34 L92,33 L92,62 L-4,65 Z" fill="#86d549"/>
<path d="M-4,64 L92,60 L92,88 L-4,88 Z" fill="url(#g37b)"/>
</g></g><rect width="88" height="84" class="fr"/>
<g class="tk"><path d="M-3,8H0M-3,41H0M-3,74H0M6,84V87M44,84V87M82,84V87"/><text class="y" x="-5" y="10.2">0.8</text><text class="y" x="-5" y="43.2">0.0</text><text class="y" x="-5" y="76.2">−0.8</text><text x="6" y="92">−0.8</text><text x="44" y="92">0.0</text><text x="82" y="92">0.8</text></g></g>

<g transform="translate(878,273)"><rect width="83" height="84" class="bg"/>
<g clip-path="url(#cB)"><g filter="url(#r)">
<rect x="-4" y="-4" width="96" height="96" fill="url(#g38)"/>
<ellipse cx="20" cy="6" rx="20" ry="14" fill="url(#rY)"/>
<ellipse cx="2" cy="22" rx="3" ry="6" class="h"/><circle cx="8" cy="28" r="1.5" class="h"/><circle cx="33" cy="28" r="1.5" class="h"/><circle cx="78" cy="40" r="1.5" class="h"/>
<circle cx="6" cy="68" r="2" class="h"/><circle cx="10" cy="72" r="2" class="h"/><circle cx="16" cy="70" r="1.8" class="h"/><circle cx="22" cy="74" r="2" class="h"/><circle cx="28" cy="70" r="2" class="h"/><circle cx="34" cy="76" r="1.8" class="h"/><circle cx="4" cy="78" r="1.5" class="h"/><circle cx="52" cy="74" r="1.5" class="h"/>
<circle cx="8" cy="74" r="1" fill="#3b528b"/>
</g></g><rect width="83" height="84" class="fr"/>
<g class="tk"><path d="M-3,8H0M-3,41H0M-3,74H0M5.7,84V87M41.5,84V87M77.3,84V87"/><text class="y" x="-5" y="10.2">0.8</text><text class="y" x="-5" y="43.2">0.0</text><text class="y" x="-5" y="76.2">−0.8</text><text x="5.7" y="92">−0.8</text><text x="41.5" y="92">0.0</text><text x="77.3" y="92">0.8</text></g></g>

<!-- ================= ROW 4 Ant Omni ================= -->
<g transform="translate(99,373)"><rect width="88" height="84" class="bg"/>
<g clip-path="url(#cA)">
<ellipse cx="44" cy="40" rx="2.5" ry="4.5" fill="#c8e020"/><circle cx="46" cy="42" r="1.8" fill="#5ec962"/><circle cx="43" cy="44" r="1.5" fill="#44bf70"/>
</g><rect width="88" height="84" class="fr"/>
<g class="tk"><path d="M-3,14H0M-3,42H0M-3,70H0M14.7,84V87M44,84V87M73.3,84V87"/><text class="y" x="-5" y="16.2">20</text><text class="y" x="-5" y="44.2">0</text><text class="y" x="-5" y="72.2">−20</text><text x="14.7" y="92">−20</text><text x="44" y="92">0</text><text x="73.3" y="92">20</text></g></g>

<g transform="translate(210,373)"><rect width="88" height="84" class="bg"/>
<g clip-path="url(#cA)">
<ellipse cx="44" cy="41" rx="3.5" ry="3" fill="#f0e51d"/><circle cx="41" cy="40" r="1.3" fill="#8fd744"/><circle cx="46" cy="44" r="1.3" fill="#44bf70"/>
</g><rect width="88" height="84" class="fr"/>
<g class="tk"><path d="M-3,14H0M-3,42H0M-3,70H0M14.7,84V87M44,84V87M73.3,84V87"/><text class="y" x="-5" y="16.2">20</text><text class="y" x="-5" y="44.2">0</text><text class="y" x="-5" y="72.2">−20</text><text x="14.7" y="92">−20</text><text x="44" y="92">0</text><text x="73.3" y="92">20</text></g></g>

<g transform="translate(321,373)"><rect width="88" height="84" class="bg"/>
<g clip-path="url(#cA)"><g filter="url(#r)">
<rect x="-4" y="-4" width="96" height="96" fill="url(#r43)"/>
<path d="M48,36 L50,20 L52,8 L50,-4 L82,-4 L82,12 L80,24 L70,28 L58,30 Z" class="h"/>
<path d="M40,42 L28,36 L14,32 L-4,30 L-4,54 L10,52 L24,48 L36,46 Z" class="h"/>
<path d="M44,50 L36,62 L30,74 L28,88 L72,88 L66,74 L58,62 L50,52 Z" class="h"/>
<path d="M22,18 L36,16 L42,26 L32,30 L24,26 Z" class="h"/>
<circle cx="15" cy="20" r="1.5" fill="#3b528b"/><circle cx="10" cy="66" r="1.5" fill="#3b528b"/><circle cx="67" cy="70" r="1.5" fill="#3b528b"/><circle cx="46" cy="40" r="1.3" fill="#440154"/><circle cx="20" cy="74" r="1.5" fill="#3b528b"/>
</g></g><rect width="88" height="84" class="fr"/>
<g class="tk"><path d="M-3,14H0M-3,42H0M-3,70H0M14.7,84V87M44,84V87M73.3,84V87"/><text class="y" x="-5" y="16.2">20</text><text class="y" x="-5" y="44.2">0</text><text class="y" x="-5" y="72.2">−20</text><text x="14.7" y="92">−20</text><text x="44" y="92">0</text><text x="73.3" y="92">20</text></g></g>

<g transform="translate(433,373)"><rect width="88" height="84" class="bg"/>
<g clip-path="url(#cA)"><g filter="url(#r)">
<ellipse cx="46" cy="41" rx="14" ry="15" fill="url(#rd1)"/>
<circle cx="32" cy="36" r="2" fill="#440154"/><circle cx="34" cy="42" r="2" fill="#440154"/><circle cx="38" cy="48" r="2" fill="#440154"/><circle cx="42" cy="53" r="1.8" fill="#440154"/><circle cx="36" cy="54" r="1.8" fill="#440154"/><circle cx="56" cy="34" r="1.5" fill="#440154"/><circle cx="57" cy="40" r="1.5" fill="#3b528b"/><circle cx="48" cy="55" r="1.5" fill="#3b528b"/>
</g></g><rect width="88" height="84" class="fr"/>
<g class="tk"><path d="M-3,14H0M-3,42H0M-3,70H0M14.7,84V87M44,84V87M73.3,84V87"/><text class="y" x="-5" y="16.2">20</text><text class="y" x="-5" y="44.2">0</text><text class="y" x="-5" y="72.2">−20</text><text x="14.7" y="92">−20</text><text x="44" y="92">0</text><text x="73.3" y="92">20</text></g></g>

<g transform="translate(544,373)"><rect width="88" height="84" class="bg"/>
<g clip-path="url(#cA)"><g filter="url(#r)">
<ellipse cx="45" cy="40" rx="26" ry="24" fill="url(#rd2)"/>
<circle cx="30" cy="61" r="2" fill="#2f6c8e"/><circle cx="38" cy="63" r="1.5" fill="#3b528b"/>
</g></g><rect width="88" height="84" class="fr"/>
<g class="tk"><path d="M-3,14H0M-3,42H0M-3,70H0M14.7,84V87M44,84V87M73.3,84V87"/><text class="y" x="-5" y="16.2">20</text><text class="y" x="-5" y="44.2">0</text><text class="y" x="-5" y="72.2">−20</text><text x="14.7" y="92">−20</text><text x="44" y="92">0</text><text x="73.3" y="92">20</text></g></g>

<g transform="translate(655,373)"><rect width="88" height="84" class="bg"/>
<g clip-path="url(#cA)"><g filter="url(#r)">
<ellipse cx="45" cy="43" rx="27" ry="25" fill="url(#rd3)"/>
<circle cx="20" cy="40" r="2" fill="#3b528b"/><circle cx="22" cy="48" r="2" fill="#414487"/><circle cx="60" cy="62" r="2" fill="#3b528b"/><circle cx="68" cy="50" r="1.5" fill="#414487"/><circle cx="34" cy="20" r="1.5" fill="#3b528b"/><circle cx="55" cy="19" r="1.5" fill="#3b528b"/>
</g></g><rect width="88" height="84" class="fr"/>
<g class="tk"><path d="M-3,14H0M-3,42H0M-3,70H0M14.7,84V87M44,84V87M73.3,84V87"/><text class="y" x="-5" y="16.2">20</text><text class="y" x="-5" y="44.2">0</text><text class="y" x="-5" y="72.2">−20</text><text x="14.7" y="92">−20</text><text x="44" y="92">0</text><text x="73.3" y="92">20</text></g></g>

<g transform="translate(766,373)"><rect width="88" height="84" class="bg"/>
<g clip-path="url(#cA)"><g filter="url(#r)">
<ellipse cx="44" cy="44" rx="33" ry="31" fill="url(#rd4)"/>
</g></g><rect width="88" height="84" class="fr"/>
<g class="tk"><path d="M-3,14H0M-3,42H0M-3,70H0M14.7,84V87M44,84V87M73.3,84V87"/><text class="y" x="-5" y="16.2">20</text><text class="y" x="-5" y="44.2">0</text><text class="y" x="-5" y="72.2">−20</text><text x="14.7" y="92">−20</text><text x="44" y="92">0</text><text x="73.3" y="92">20</text></g></g>

<g transform="translate(878,373)"><rect width="83" height="84" class="bg"/>
<g clip-path="url(#cB)"><g filter="url(#r)">
<ellipse cx="40" cy="46" rx="20" ry="16" transform="rotate(-35 40 46)" fill="url(#rd5)"/>
<circle cx="30" cy="31" r="1.5" fill="#3b528b"/><circle cx="34" cy="29" r="1.5" fill="#414487"/><circle cx="38" cy="28" r="1.5" fill="#3b528b"/><circle cx="58" cy="50" r="1.5" fill="#3b528b"/><circle cx="22" cy="58" r="2" fill="#44bf70"/><circle cx="36" cy="66" r="1.5" fill="#44bf70"/>
</g></g><rect width="83" height="84" class="fr"/>
<g class="tk"><path d="M-3,14H0M-3,42H0M-3,70H0M13.8,84V87M41.5,84V87M69.2,84V87"/><text class="y" x="-5" y="16.2">20</text><text class="y" x="-5" y="44.2">0</text><text class="y" x="-5" y="72.2">−20</text><text x="13.8" y="92">−20</text><text x="41.5" y="92">0</text><text x="69.2" y="92">20</text></g></g>

<!-- ================= ROW 5 Walker2d Uni ================= -->
<g transform="translate(99,473)"><rect width="88" height="84" class="bg"/>
<g clip-path="url(#cA)"><g filter="url(#r)">
<path d="M34,32 L42,22 L50,18 L58,12 L66,6 L72,2 L80,-4 L92,-4 L92,36 L80,34 L72,38 L62,34 L50,30 L40,32 Z" fill="url(#g51b)"/>
<path d="M12,48 L16,40 L24,36 L34,34 L42,30 L52,32 L62,36 L72,40 L76,46 L70,52 L60,56 L50,60 L44,66 L36,70 L28,68 L22,62 L14,58 Z" fill="url(#r51)"/>
<circle cx="82" cy="70" r="2" fill="#414487"/><circle cx="86" cy="72" r="1.8" fill="#414487"/><circle cx="58" cy="60" r="1.5" fill="#2f6c8e"/>
<circle cx="60" cy="20" r="1.5" class="h"/><circle cx="70" cy="14" r="1.5" class="h"/>
</g></g><rect width="88" height="84" class="fr"/>
<g class="tk"><path d="M-3,16.8H0M-3,50.4H0M-3,84H0M0,84V87M35.2,84V87M70.4,84V87"/><text class="y" x="-5" y="19">0.8</text><text class="y" x="-5" y="52.6">0.4</text><text class="y" x="-5" y="86.2">0.0</text><text x="0" y="92">0.0</text><text x="35.2" y="92">0.4</text><text x="70.4" y="92">0.8</text></g></g>

<g transform="translate(210,473)"><rect width="88" height="84" class="bg"/>
<g clip-path="url(#cA)"><g filter="url(#r)">
<path d="M25,-4 L40,-4 L39,6 L34,12 L28,10 Z" fill="#46137a"/>
<path d="M36,30 L44,20 L52,14 L62,8 L72,2 L80,-4 L92,-4 L92,24 L86,30 L80,38 L76,48 L70,54 L60,52 L54,44 L46,38 Z" fill="url(#g51b)"/>
<path d="M12,46 L14,38 L20,32 L30,28 L38,28 L46,30 L52,36 L56,44 L60,52 L56,58 L48,62 L40,66 L30,70 L22,68 L16,62 L12,56 Z" fill="url(#r52)"/>
</g></g><rect width="88" height="84" class="fr"/>
<g class="tk"><path d="M-3,16.8H0M-3,50.4H0M-3,84H0M0,84V87M35.2,84V87M70.4,84V87"/><text class="y" x="-5" y="19">0.8</text><text class="y" x="-5" y="52.6">0.4</text><text class="y" x="-5" y="86.2">0.0</text><text x="0" y="92">0.0</text><text x="35.2" y="92">0.4</text><text x="70.4" y="92">0.8</text></g></g>

<g transform="translate(321,473)"><rect width="88" height="84" class="bg"/>
<g clip-path="url(#cA)"><g filter="url(#r)">
<path d="M9,-4 L92,-4 L92,72 L72,69 L56,67 L37,64 L29,50 L22,40 L17,32 L14,20 L10,8 Z" fill="url(#r53)"/>
<circle cx="62" cy="70" r="2" fill="#433e85"/><circle cx="68" cy="72" r="2.5" fill="#433e85"/><circle cx="76" cy="74" r="2" fill="#433e85"/><circle cx="84" cy="76" r="2.5" fill="#433e85"/><circle cx="88" cy="70" r="2" fill="#433e85"/><circle cx="80" cy="66" r="1.5" fill="#46137a"/>
<circle cx="12" cy="4" r="2" fill="#433e85"/><circle cx="18" cy="8" r="1.5" fill="#433e85"/>
<circle cx="84" cy="28" r="2" class="h"/><circle cx="78" cy="36" r="1.5" class="h"/>
</g></g><rect width="88" height="84" class="fr"/>
<g class="tk"><path d="M-3,16.8H0M-3,50.4H0M-3,84H0M0,84V87M35.2,84V87M70.4,84V87"/><text class="y" x="-5" y="19">0.8</text><text class="y" x="-5" y="52.6">0.4</text><text class="y" x="-5" y="86.2">0.0</text><text x="0" y="92">0.0</text><text x="35.2" y="92">0.4</text><text x="70.4" y="92">0.8</text></g></g>

<g transform="translate(433,473)"><rect width="88" height="84" class="bg"/>
<g clip-path="url(#cA)"><g filter="url(#r)">
<path d="M12,-4 L92,-4 L92,62 L82,66 L76,72 L60,74 L40,76 L26,74 L22,68 L22,58 L20,44 L22,30 L20,18 L16,8 Z" fill="url(#r54)"/>
<circle cx="66" cy="76" r="2" fill="#414487"/><circle cx="62" cy="78" r="1.5" fill="#414487"/>
<circle cx="8" cy="2" r="2" fill="#3b528b"/><circle cx="4" cy="6" r="1.8" fill="#3b528b"/>
<circle cx="86" cy="30" r="1.5" class="h"/><circle cx="88" cy="44" r="1.5" class="h"/>
</g></g><rect width="88" height="84" class="fr"/>
<g class="tk"><path d="M-3,16.8H0M-3,50.4H0M-3,84H0M0,84V87M35.2,84V87M70.4,84V87"/><text class="y" x="-5" y="19">0.8</text><text class="y" x="-5" y="52.6">0.4</text><text class="y" x="-5" y="86.2">0.0</text><text x="0" y="92">0.0</text><text x="35.2" y="92">0.4</text><text x="70.4" y="92">0.8</text></g></g>

<g transform="translate(544,473)"><rect width="88" height="84" class="bg"/>
<g clip-path="url(#cA)"><g filter="url(#r)">
<path d="M-4,-4 L92,-4 L92,88 L43,88 L43,82 L33,72 L19,59 L9,35 L2,18 L-4,12 Z" fill="url(#r55)"/>
</g></g><rect width="88" height="84" class="fr"/>
<g class="tk"><path d="M-3,16.8H0M-3,50.4H0M-3,84H0M0,84V87M35.2,84V87M70.4,84V87"/><text class="y" x="-5" y="19">0.8</text><text class="y" x="-5" y="52.6">0.4</text><text class="y" x="-5" y="86.2">0.0</text><text x="0" y="92">0.0</text><text x="35.2" y="92">0.4</text><text x="70.4" y="92">0.8</text></g></g>

<g transform="translate(655,473)"><rect width="88" height="84" class="bg"/>
<g clip-path="url(#cA)"><g filter="url(#r)">
<path d="M-4,-4 L92,-4 L92,88 L58,88 L58,82 L41,72 L28,59 L24,45 L11,32 L-4,22 Z" fill="url(#r56)"/>
<circle cx="60" cy="84" r="2" fill="#414487"/>
</g></g><rect width="88" height="84" class="fr"/>
<g class="tk"><path d="M-3,16.8H0M-3,50.4H0M-3,84H0M0,84V87M35.2,84V87M70.4,84V87"/><text class="y" x="-5" y="19">0.8</text><text class="y" x="-5" y="52.6">0.4</text><text class="y" x="-5" y="86.2">0.0</text><text x="0" y="92">0.0</text><text x="35.2" y="92">0.4</text><text x="70.4" y="92">0.8</text></g></g>

<g transform="translate(766,473)"><rect width="88" height="84" class="bg"/>
<g clip-path="url(#cA)"><g filter="url(#r)">
<path d="M-4,-4 L92,-4 L92,88 L40,88 L33,77 L28,67 L20,57 L5,47 L0,27 L-4,27 Z" fill="url(#r57)"/>
<circle cx="8" cy="48" r="4" fill="#35b779"/>
<circle cx="23" cy="61" r="2" fill="#414487"/>
</g></g><rect width="88" height="84" class="fr"/>
<g class="tk"><path d="M-3,16.8H0M-3,50.4H0M-3,84H0M0,84V87M35.2,84V87M70.4,84V87"/><text class="y" x="-5" y="19">0.8</text><text class="y" x="-5" y="52.6">0.4</text><text class="y" x="-5" y="86.2">0.0</text><text x="0" y="92">0.0</text><text x="35.2" y="92">0.4</text><text x="70.4" y="92">0.8</text></g></g>

<g transform="translate(878,473)"><rect width="83" height="84" class="bg"/>
<g clip-path="url(#cB)"><g filter="url(#r)">
<path d="M-4,-4 L92,-4 L92,88 L75,88 L62,75 L52,70 L32,67 L19,57 L0,51 L-4,51 Z" fill="url(#r58)"/>
<ellipse cx="2" cy="46" rx="4" ry="6" fill="#44bf70"/>
<circle cx="72" cy="78" r="2" fill="#414487"/><circle cx="78" cy="80" r="1.5" fill="#414487"/>
</g></g><rect width="83" height="84" class="fr"/>
<g class="tk"><path d="M-3,16.8H0M-3,50.4H0M-3,84H0M0,84V87M33.2,84V87M66.4,84V87"/><text class="y" x="-5" y="19">0.8</text><text class="y" x="-5" y="52.6">0.4</text><text class="y" x="-5" y="86.2">0.0</text><text x="0" y="92">0.0</text><text x="33.2" y="92">0.4</text><text x="66.4" y="92">0.8</text></g></g>

<!-- ================= ROW 6 Halfcheetah Uni ================= -->
<g transform="translate(99,573)"><rect width="88" height="84" class="bg"/>
<g clip-path="url(#cA)"><g filter="url(#r)">
<path d="M-4,62 L6,52 L14,40 L22,28 L30,18 L40,10 L52,6 L62,2 L70,-4 L92,-4 L92,8 L82,14 L70,20 L58,26 L50,32 L44,40 L36,52 L28,58 L18,64 L8,70 L-4,76 Z" fill="url(#g61)"/>
<path d="M-4,66 L10,62 L24,58 L34,52 L46,48 L58,46 L70,46 L76,50 L72,56 L60,58 L48,60 L36,64 L26,70 L14,76 L4,82 L-4,84 Z" fill="#3f4a8a"/>
<ellipse cx="29" cy="38" rx="11" ry="17" transform="rotate(20 29 38)" fill="url(#r61)"/>
<circle cx="4" cy="84" r="3" fill="#414487"/>
</g></g><rect width="88" height="84" class="fr"/>
<g class="tk"><path d="M-3,16.8H0M-3,50.4H0M-3,84H0M0,84V87M35.2,84V87M70.4,84V87"/><text class="y" x="-5" y="19">0.8</text><text class="y" x="-5" y="52.6">0.4</text><text class="y" x="-5" y="86.2">0.0</text><text x="0" y="92">0.0</text><text x="35.2" y="92">0.4</text><text x="70.4" y="92">0.8</text></g></g>

<g transform="translate(210,573)"><rect width="88" height="84" class="bg"/>
<g clip-path="url(#cA)"><g filter="url(#r)">
<path d="M-4,78 L6,70 L14,62 L18,50 L20,40 L28,32 L40,28 L52,20 L60,12 L70,6 L80,2 L90,-2 L92,14 L80,20 L72,28 L64,38 L58,48 L50,54 L38,58 L28,62 L18,66 L8,74 Z" fill="url(#g61)"/>
<path d="M-4,70 L10,66 L24,62 L40,60 L56,60 L70,60 L80,62 L78,68 L64,66 L50,68 L36,68 L20,70 L8,76 L-4,80 Z" fill="#414487"/>
<ellipse cx="36" cy="46" rx="15" ry="11" transform="rotate(-25 36 46)" fill="url(#r62)"/>
<circle cx="25" cy="30" r="1.5" fill="#44bf70"/>
</g></g><rect width="88" height="84" class="fr"/>
<g class="tk"><path d="M-3,16.8H0M-3,50.4H0M-3,84H0M0,84V87M35.2,84V87M70.4,84V87"/><text class="y" x="-5" y="19">0.8</text><text class="y" x="-5" y="52.6">0.4</text><text class="y" x="-5" y="86.2">0.0</text><text x="0" y="92">0.0</text><text x="35.2" y="92">0.4</text><text x="70.4" y="92">0.8</text></g></g>

<g transform="translate(321,573)"><rect width="88" height="84" class="bg"/>
<g clip-path="url(#cA)"><g filter="url(#r)">
<path d="M-4,-4 L92,-4 L92,40 L80,44 L70,48 L56,50 L44,52 L34,58 L28,66 L22,70 L10,70 L-4,64 Z" fill="url(#r63)"/>
<path d="M21,4 L26,4 L26,47 L21,47 Z" class="h"/>
<ellipse cx="0" cy="54" rx="3" ry="9" fill="#c8e020"/>
<path d="M26,60 L34,52 L44,50 L56,50 L68,52 L74,58 L72,66 L60,66 L48,64 L38,66 L28,70 Z" fill="#3e4a89"/>
<path d="M4,68 L16,66 L28,68 L30,76 L20,78 L8,76 Z" fill="#433e85"/>
<circle cx="76" cy="26" r="2" class="h"/><circle cx="82" cy="32" r="2" class="h"/><circle cx="86" cy="20" r="2" class="h"/><circle cx="72" cy="10" r="1.8" class="h"/><circle cx="80" cy="8" r="1.5" class="h"/><circle cx="60" cy="40" r="1.5" class="h"/>
</g></g><rect width="88" height="84" class="fr"/>
<g class="tk"><path d="M-3,16.8H0M-3,50.4H0M-3,84H0M0,84V87M35.2,84V87M70.4,84V87"/><text class="y" x="-5" y="19">0.8</text><text class="y" x="-5" y="52.6">0.4</text><text class="y" x="-5" y="86.2">0.0</text><text x="0" y="92">0.0</text><text x="35.2" y="92">0.4</text><text x="70.4" y="92">0.8</text></g></g>

<g transform="translate(433,573)"><rect width="88" height="84" class="bg"/>
<g clip-path="url(#cA)"><g filter="url(#r)">
<path d="M30,-4 L92,-4 L92,70 L80,72 L66,68 L56,70 L46,68 L38,70 L30,76 L20,80 L6,78 L-4,72 L-4,50 L4,48 L8,40 L10,30 L18,26 L26,22 L30,12 Z" fill="url(#r64)"/>
<path d="M-4,54 L6,56 L14,62 L20,68 L22,76 L14,80 L4,80 L-4,78 Z" fill="#3b528b"/>
<path d="M52,80 L70,79 L76,82 L76,88 L52,88Z" fill="#3b528b"/>
<circle cx="8" cy="70" r="2" class="h"/><circle cx="84" cy="56" r="2" class="h"/><circle cx="70" cy="60" r="1.5" class="h"/>
</g></g><rect width="88" height="84" class="fr"/>
<g class="tk"><path d="M-3,16.8H0M-3,50.4H0M-3,84H0M0,84V87M35.2,84V87M70.4,84V87"/><text class="y" x="-5" y="19">0.8</text><text class="y" x="-5" y="52.6">0.4</text><text class="y" x="-5" y="86.2">0.0</text><text x="0" y="92">0.0</text><text x="35.2" y="92">0.4</text><text x="70.4" y="92">0.8</text></g></g>

<g transform="translate(544,573)"><rect width="88" height="84" class="bg"/>
<g clip-path="url(#cA)"><g filter="url(#r)">
<rect x="-4" y="-4" width="96" height="96" fill="url(#r65)"/>
<rect x="-4" y="-4" width="96" height="18" fill="url(#gT)"/>
<rect x="-4" y="68" width="96" height="20" fill="url(#gB)" opacity=".7"/>
<rect x="70" y="-4" width="22" height="96" fill="url(#gR)"/>
</g></g><rect width="88" height="84" class="fr"/>
<g class="tk"><path d="M-3,16.8H0M-3,50.4H0M-3,84H0M0,84V87M35.2,84V87M70.4,84V87"/><text class="y" x="-5" y="19">0.8</text><text class="y" x="-5" y="52.6">0.4</text><text class="y" x="-5" y="86.2">0.0</text><text x="0" y="92">0.0</text><text x="35.2" y="92">0.4</text><text x="70.4" y="92">0.8</text></g></g>

<g transform="translate(655,573)"><rect width="88" height="84" class="bg"/>
<g clip-path="url(#cA)"><g filter="url(#r)">
<rect x="-4" y="-4" width="96" height="96" fill="url(#r66)"/>
<rect x="-4" y="-4" width="60" height="18" fill="url(#gT)" opacity=".8"/>
<path d="M84,2 L92,0 L92,60 L86,58 L84,40 L86,20 Z" class="h"/>
<circle cx="80" cy="36" r="1.5" class="h"/><circle cx="86" cy="64" r="1.5" class="h"/>
<ellipse cx="30" cy="84" rx="4" ry="2" class="h"/><circle cx="42" cy="85" r="2" class="h"/>
</g></g><rect width="88" height="84" class="fr"/>
<g class="tk"><path d="M-3,16.8H0M-3,50.4H0M-3,84H0M0,84V87M35.2,84V87M70.4,84V87"/><text class="y" x="-5" y="19">0.8</text><text class="y" x="-5" y="52.6">0.4</text><text class="y" x="-5" y="86.2">0.0</text><text x="0" y="92">0.0</text><text x="35.2" y="92">0.4</text><text x="70.4" y="92">0.8</text></g></g>

<g transform="translate(766,573)"><rect width="88" height="84" class="bg"/>
<g clip-path="url(#cA)"><g filter="url(#r)">
<rect x="-4" y="-4" width="96" height="96" fill="url(#r67)"/>
<ellipse cx="24" cy="57" rx="16" ry="7" fill="url(#r67s)"/>
<rect x="-4" y="-4" width="96" height="16" fill="url(#gT)" opacity=".7"/>
<rect x="-4" y="72" width="96" height="16" fill="url(#gB)" opacity=".5"/>
</g></g><rect width="88" height="84" class="fr"/>
<g class="tk"><path d="M-3,16.8H0M-3,50.4H0M-3,84H0M0,84V87M35.2,84V87M70.4,84V87"/><text class="y" x="-5" y="19">0.8</text><text class="y" x="-5" y="52.6">0.4</text><text class="y" x="-5" y="86.2">0.0</text><text x="0" y="92">0.0</text><text x="35.2" y="92">0.4</text><text x="70.4" y="92">0.8</text></g></g>

<g transform="translate(878,573)"><rect width="83" height="84" class="bg"/>
<g clip-path="url(#cB)"><g filter="url(#r)">
<rect x="-4" y="-4" width="96" height="96" fill="url(#r68)"/>
<ellipse cx="0" cy="45" rx="3" ry="10" fill="#bddf26"/>
<path d="M9,-4 L66,-4 L62,4 L54,8 L44,10 L34,10 L24,8 L14,6 L10,3 Z" class="h"/>
<path d="M78,4 L84,2 L90,4 L90,52 L82,50 L80,40 L78,24 Z" class="h"/>
<circle cx="79" cy="30" r="1.5" fill="#414487"/>
<ellipse cx="20" cy="84" rx="6" ry="2" class="h"/><ellipse cx="40" cy="85" rx="5" ry="2" class="h"/>
</g></g><rect width="83" height="84" class="fr"/>
<g class="tk"><path d="M-3,16.8H0M-3,50.4H0M-3,84H0M0,84V87M33.2,84V87M66.4,84V87"/><text class="y" x="-5" y="19">0.8</text><text class="y" x="-5" y="52.6">0.4</text><text class="y" x="-5" y="86.2">0.0</text><text x="0" y="92">0.0</text><text x="33.2" y="92">0.4</text><text x="66.4" y="92">0.8</text></g></g>

<!-- ================= Colorbars ================= -->
<g class="cb">
<rect x="963" y="72" width="5" height="84" fill="url(#cbg)"/>
<path d="M968,80H971M968,103H971M968,125H971M968,148H971"/>
<text x="972.5" y="83">1800</text><text x="972.5" y="106">1200</text><text x="972.5" y="128">600</text><text x="972.5" y="151">0</text>

<rect x="963" y="172" width="5" height="84" fill="url(#cbg)"/>
<path d="M968,172.5H971M968,193H971M968,214H971M968,235H971M968,255.5H971"/>
<text x="972.5" y="175.5">0</text><text x="972.5" y="196">−5000</text><text x="972.5" y="217">−10000</text><text x="972.5" y="238">−15000</text><text x="972.5" y="259">−20000</text>

<rect x="963" y="273" width="5" height="84" fill="url(#cbg)"/>
<path d="M968,273.5H971M968,294H971M968,315H971M968,336H971M968,356.5H971"/>
<text x="972.5" y="276.5">0</text><text x="972.5" y="297">−250</text><text x="972.5" y="318">−500</text><text x="972.5" y="339">−750</text><text x="972.5" y="360">−1000</text>

<rect x="963" y="373" width="5" height="84" fill="url(#cbg)"/>
<path d="M968,378H971M968,401H971M968,423H971M968,446H971"/>
<text x="972.5" y="381">200</text><text x="972.5" y="404">0</text><text x="972.5" y="426">−200</text><text x="972.5" y="449">−400</text>

<rect x="963" y="473" width="5" height="84" fill="url(#cbg)"/>
<path d="M968,473.5H971M968,498H971M968,522H971M968,547H971"/>
<text x="972.5" y="476.5">1500</text><text x="972.5" y="501">1000</text><text x="972.5" y="525">500</text><text x="972.5" y="550">0</text>

<rect x="963" y="573" width="5" height="84" fill="url(#cbg)"/>
<path d="M968,589H971M968,610H971M968,631H971M968,652H971"/>
<text x="972.5" y="592">1600</text><text x="972.5" y="613">800</text><text x="972.5" y="634">0</text><text x="972.5" y="655">−800</text>
</g>
</svg>
</body></html>
